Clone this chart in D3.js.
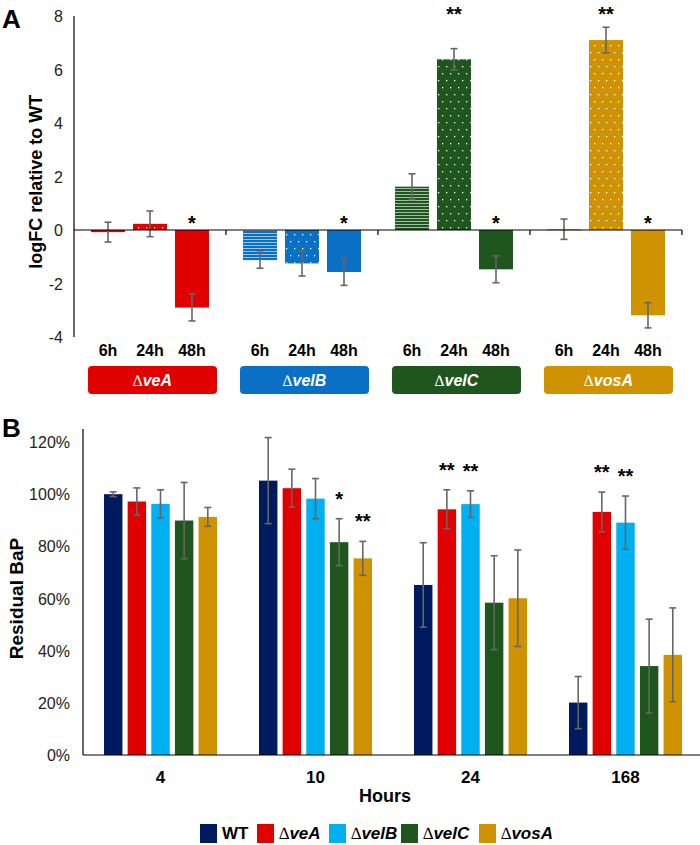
<!DOCTYPE html>
<html>
<head>
<meta charset="utf-8">
<script src="https://cdn.jsdelivr.net/npm/d3@7"></script>
<style>
  body { margin: 0; background: #fff; }
  svg { font-family: "Liberation Sans", Arial, sans-serif; }
</style>
</head>
<body>
<div id="chart"></div>
<script>
// ---- panel A data ----
const genes = ["veA", "velB", "velC", "vosA"];
const times = ["6h", "24h", "48h"];
const logFC = [
  [-0.08, 0.23, -2.9],
  [-1.13, -1.25, -1.57],
  [1.62, 6.38, -1.47],
  [0.03, 7.1, -3.19]
];
const logFCErr = [
  [0.37, 0.48, 0.5],
  [0.3, 0.47, 0.5],
  [0.48, 0.4, 0.5],
  [0.38, 0.48, 0.47]
];
const logFCStars = [
  ["", "", "*"],
  ["", "", "*"],
  ["", "**", "*"],
  ["", "**", "*"]
];
const geneColors = ["#e00000", "#0a70c6", "#1f561d", "#cf9200"];
const yTicksA = [-4, -2, 0, 2, 4, 6, 8];

// ---- panel B data ----
const hours = ["4", "10", "24", "168"];
const strains = ["WT", "veA", "velB", "velC", "vosA"];
const strainColors = ["#001a5e", "#e00000", "#00b0f0", "#1f561d", "#cf9200"];
const residual = [
  [1.00, 0.972, 0.963, 0.899, 0.913],
  [1.052, 1.023, 0.983, 0.816, 0.754],
  [0.652, 0.942, 0.962, 0.584, 0.601],
  [0.201, 0.932, 0.891, 0.341, 0.384]
];
const residualErr = [
  [0.009, 0.052, 0.054, 0.146, 0.036],
  [0.165, 0.073, 0.077, 0.09, 0.065],
  [0.162, 0.075, 0.051, 0.18, 0.185],
  [0.10, 0.076, 0.102, 0.18, 0.18]
];
const residualStars = [
  ["", "", "", "", ""],
  ["", "", "", "*", "**"],
  ["", "**", "**", "", ""],
  ["", "**", "**", "", ""]
];
const yTicksB = [0, 0.2, 0.4, 0.6, 0.8, 1.0, 1.2];

const W = 700, H = 845;
const svg = d3.select("#chart").append("svg").attr("width", W).attr("height", H);
const defs = svg.append("defs");

// patterns: stripes for 6h, dots for 24h
genes.forEach((g, i) => {
  const c = geneColors[i];
  const light = d3.interpolateRgb(c, "#fff")(0.6);
  const st = defs.append("pattern").attr("id", "stripe" + i)
    .attr("patternUnits", "userSpaceOnUse").attr("width", 8).attr("height", 3);
  st.append("rect").attr("width", 8).attr("height", 3).attr("fill", light);
  st.append("rect").attr("width", 8).attr("height", 2).attr("fill", c);
  const dt = defs.append("pattern").attr("id", "dots" + i)
    .attr("patternUnits", "userSpaceOnUse").attr("width", 8).attr("height", 14);
  dt.append("rect").attr("width", 8).attr("height", 14).attr("fill", c);
  dt.append("rect").attr("x", 2).attr("y", 3).attr("width", 1.3).attr("height", 1.3).attr("fill", "#fff");
  dt.append("rect").attr("x", 6).attr("y", 10).attr("width", 1.3).attr("height", 1.3).attr("fill", "#fff");
});

function errBar(g, x, y1, y2) {
  g.append("line").attr("x1", x).attr("x2", x).attr("y1", y1).attr("y2", y2)
    .attr("stroke", "#666").attr("stroke-width", 1.6);
  [y1, y2].forEach(y => g.append("line").attr("x1", x - 3.5).attr("x2", x + 3.5)
    .attr("y1", y).attr("y2", y).attr("stroke", "#666").attr("stroke-width", 1.6));
}

// delta + italic gene name
function deltaLabel(t, name) {
  t.append("tspan").attr("font-family", "'Liberation Serif', serif").text("\u2206");
  t.append("tspan").attr("font-weight", "bold").attr("font-style", "italic").text(name);
}

// ================= Panel A =================
const xA = d3.scaleBand().domain(genes).range([74, 682]);
const xAin = d3.scaleBand().domain(times).range([17, 135]).paddingInner(0.19);
const yA = d3.scaleLinear().domain([-4, 8]).range([337, 16]);
const gA = svg.append("g");

gA.append("text").attr("x", 2).attr("y", 28).attr("font-size", 26)
  .attr("font-weight", "bold").text("A");

// y axis
gA.append("line").attr("x1", 74).attr("x2", 74).attr("y1", yA(8)).attr("y2", yA(-4))
  .attr("stroke", "#000").attr("stroke-width", 1.2);
gA.selectAll(".ytA").data(yTicksA).join("text")
  .attr("x", 63).attr("y", d => yA(d) + 6).attr("text-anchor", "end")
  .attr("font-size", 16).attr("fill", "#222").text(d => d);
gA.append("text").attr("transform", "translate(42," + yA(1.8) + ") rotate(-90)")
  .attr("text-anchor", "middle").attr("font-size", 18).attr("font-weight", "bold")
  .text("logFC relative to WT");

genes.forEach((g, gi) => {
  times.forEach((t, ti) => {
    const v = logFC[gi][ti], e = logFCErr[gi][ti];
    const x = xA(g) + xAin(t);
    const fill = ti === 0 ? `url(#stripe${gi})` : ti === 1 ? `url(#dots${gi})` : geneColors[gi];
    gA.append("rect").attr("x", x).attr("width", xAin.bandwidth())
      .attr("y", yA(Math.max(v, 0))).attr("height", Math.max(1.5, Math.abs(yA(v) - yA(0))))
      .attr("fill", gi === 0 && ti === 0 ? geneColors[0] : fill);
    const cx = x + xAin.bandwidth() / 2;
    errBar(gA, cx, yA(v + e), yA(v - e));
    const s = logFCStars[gi][ti];
    if (s) {
      const sy = v > 0 ? yA(8) + 5 : yA(0);
      gA.append("text").attr("x", cx).attr("y", sy).attr("text-anchor", "middle")
        .attr("font-size", 20).attr("font-weight", "bold").text(s);
    }
  });
  // group label box
  const bx = xA(g) + 14, bw = 129;
  gA.append("rect").attr("x", bx).attr("y", 366).attr("width", bw).attr("height", 28)
    .attr("rx", 4).attr("fill", geneColors[gi]);
  const lt = gA.append("text").attr("x", bx + bw / 2).attr("y", 386).attr("text-anchor", "middle")
    .attr("font-size", 16).attr("fill", "#fff");
  deltaLabel(lt, g);
  // time labels
  times.forEach(t => gA.append("text").attr("x", xA(g) + xAin(t) + xAin.bandwidth() / 2)
    .attr("y", 356).attr("text-anchor", "middle").attr("font-size", 16)
    .attr("font-weight", "bold").text(t));
});

// zero line with ticks
gA.append("line").attr("x1", 74).attr("x2", 682).attr("y1", yA(0)).attr("y2", yA(0))
  .attr("stroke", "#000").attr("stroke-width", 1.2);
gA.selectAll(".tkA").data(genes.slice(1).map(g => xA(g)).concat([682])).join("line")
  .attr("x1", d => d).attr("x2", d => d).attr("y1", yA(0)).attr("y2", yA(0) + 5)
  .attr("stroke", "#000").attr("stroke-width", 1.2);

// ================= Panel B =================
const xB = d3.scaleBand().domain(hours).range([83, 703]);
const xBin = d3.scaleBand().domain(strains).range([21, 134]).paddingInner(0.22);
const yB = d3.scaleLinear().domain([0, 1.25]).range([755, 429]);
const gB = svg.append("g");

gB.append("text").attr("x", 2).attr("y", 437).attr("font-size", 26)
  .attr("font-weight", "bold").text("B");

gB.append("line").attr("x1", 83).attr("x2", 83).attr("y1", yB(1.25)).attr("y2", yB(0))
  .attr("stroke", "#000").attr("stroke-width", 1.2);
gB.selectAll(".ytB").data(yTicksB).join("text")
  .attr("x", 70).attr("y", d => yB(d) + 6).attr("text-anchor", "end")
  .attr("font-size", 16).attr("fill", "#222").text(d => d3.format(".0%")(d));
gB.append("text").attr("transform", "translate(23," + yB(0.6) + ") rotate(-90)")
  .attr("text-anchor", "middle").attr("font-size", 19).attr("font-weight", "bold")
  .text("Residual BaP");

hours.forEach((h, hi) => {
  strains.forEach((s, si) => {
    const v = residual[hi][si], e = residualErr[hi][si];
    const x = xB(h) + xBin(s);
    gB.append("rect").attr("x", x).attr("width", xBin.bandwidth())
      .attr("y", yB(v)).attr("height", yB(0) - yB(v)).attr("fill", strainColors[si]);
    const cx = x + xBin.bandwidth() / 2;
    errBar(gB, cx, yB(v + e), yB(v - e));
    const st = residualStars[hi][si];
    if (st) {
      gB.append("text").attr("x", cx).attr("y", yB(v + e) - 13).attr("text-anchor", "middle")
        .attr("font-size", 20).attr("font-weight", "bold").text(st);
    }
  });
  gB.append("text").attr("x", xB(h) + xB.bandwidth() / 2).attr("y", 783)
    .attr("text-anchor", "middle").attr("font-size", 17).attr("font-weight", "bold").text(h);
});
gB.append("line").attr("x1", 83).attr("x2", 700).attr("y1", yB(0)).attr("y2", yB(0))
  .attr("stroke", "#000").attr("stroke-width", 1.2);
gB.append("text").attr("x", 385).attr("y", 802).attr("text-anchor", "middle")
  .attr("font-size", 18).attr("font-weight", "bold").text("Hours");

// legend
const legX = [200, 257, 329, 401, 479];
strains.forEach((s, si) => {
  gB.append("rect").attr("x", legX[si]).attr("y", 824).attr("width", 17).attr("height", 19)
    .attr("fill", strainColors[si]);
  const t = gB.append("text").attr("x", legX[si] + 22).attr("y", 839).attr("font-size", 17);
  if (si === 0) {
    t.attr("font-weight", "bold").text(s);
  } else {
    deltaLabel(t, s);
  }
});
</script>
</body>
</html>
